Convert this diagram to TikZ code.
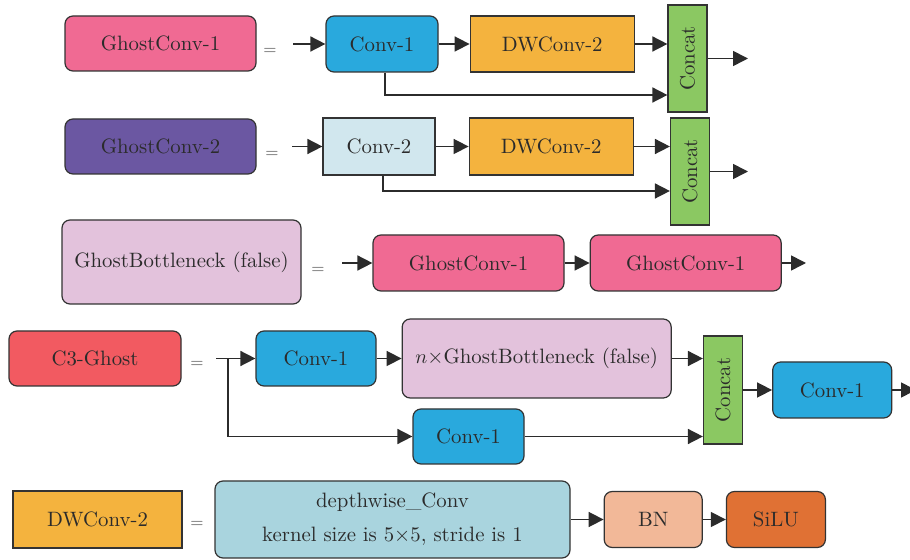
\documentclass[tikz,border=0pt]{standalone}
\usepackage{xcolor}
\usepackage{tikz}
\usetikzlibrary{%
    arrows.meta,
    positioning
}

\definecolor{ink}{HTML}{2B2B2B}
\definecolor{edge}{HTML}{333333}
\definecolor{ghostpink}{HTML}{F06A93}
\definecolor{ghostpurple}{HTML}{6B57A2}
\definecolor{bottlepink}{HTML}{E3C2DC}
\definecolor{convblue}{HTML}{29A9DD}
\definecolor{convpale}{HTML}{D1E7EE}
\definecolor{dworange}{HTML}{F4B33E}
\definecolor{catgreen}{HTML}{8BC862}
\definecolor{cthreered}{HTML}{F25A61}
\definecolor{depthblue}{HTML}{A9D4DE}
\definecolor{bnpeach}{HTML}{F2B898}
\definecolor{siluorange}{HTML}{E07134}

\tikzset{
  box/.style = { draw=edge, line width=0.6pt, text=ink, inner sep=2pt
               , font=\fontsize{10.4}{12.5}\selectfont },
  rbox/.style = { box, rounded corners=4pt },
  catbox/.style = { box, fill=catgreen, minimum width=19.5pt },
  link/.style = { -{Triangle[length=7.5pt,width=7.5pt]}, line width=0.8pt, draw=ink },
  eqsign/.style = { text=black!65, inner sep=0pt, font=\fontsize{8}{9}\selectfont }
}

\begin{document}
\begin{tikzpicture}[x=0.5pt,y=-0.5pt]
  \def\bh{27.5pt}
  \def\gw{95.5pt}
  \def\cw{56pt}
  \def\dw{82pt}

  \useasboundingbox (0,0) rectangle (910,560);

  % GhostConv-1
  \node[ rbox, fill=ghostpink
       , minimum width=\gw, minimum height=\bh ] (g1) at (160.5,43.5) {GhostConv-1};
  \node[eqsign] (e1) at (270,51) {=};
  \coordinate (i1) at (293,44);
  \node[ rbox, fill=convblue
       , minimum width=\cw, minimum height=28pt ] (c1) at (382,44) {Conv-1};
  \node[ right=15.5pt of c1, box, fill=dworange
       , minimum width=\dw, minimum height=28pt ] (d1) {DWConv-2};
  \node[ catbox, minimum height=53.5pt ] (k1) at (687.5,58.5) {\rotatebox{90}{Concat}};
  \coordinate (o1) at (748,58.5);
  \draw[link] (i1) -- (c1);
  \draw[link] (c1) -- (d1);
  \draw[link] (d1) -- (d1 -| k1.west);
  \draw[link] ([xshift=1.5pt]c1.south) |- (k1.west |- 0,95);
  \draw[link] (k1) -- (o1);

  % GhostConv-2
  \node[ rbox, fill=ghostpurple
       , minimum width=\gw, minimum height=\bh ] (g2) at (160.5,146.5) {GhostConv-2};
  \node[eqsign] (e2) at (272,154) {=};
  \coordinate (i2) at (292,146.5);
  \node[ box, fill=convpale
       , minimum width=\cw, minimum height=28.5pt ] (c2) at (379,146.5) {Conv-2};
  \node[ right=16.5pt of c2, box, fill=dworange
       , minimum width=\dw, minimum height=28.5pt ] (d2) {DWConv-2};
  \node[ catbox, minimum height=53.5pt ] (k2) at (690,171.5) {\rotatebox{90}{Concat}};
  \coordinate (o2) at (748,171.5);
  \draw[link] (i2) -- (c2);
  \draw[link] (c2) -- (d2);
  \draw[link] (d2) -- (d2 -| k2.west);
  \draw[link] ([xshift=2pt]c2.south) |- (k2.west |- 0,191);
  \draw[link] (k2) -- (o2);

  % GhostBottleneck
  \node[ rbox, fill=bottlepink
       , minimum width=119.5pt, minimum height=42pt ] (gb) at (181.5,262) {GhostBottleneck (false)};
  \node[eqsign] (e3) at (318,270) {=};
  \coordinate (i3) at (342,263);
  \node[ rbox, fill=ghostpink
       , minimum width=\gw, minimum height=28pt ] (gc1) at (468.5,263) {GhostConv-1};
  \node[ right=12.5pt of gc1, rbox, fill=ghostpink
       , minimum width=\gw, minimum height=28pt ] (gc2) {GhostConv-1};
  \coordinate (o3) at (806,263);
  \draw[link] (i3) -- (gc1);
  \draw[link] (gc1) -- (gc2);
  \draw[link] (gc2) -- (o3);

  % C3-Ghost
  \node[ rbox, fill=cthreered
       , minimum width=86pt, minimum height=\bh ] (c3) at (95,358.5) {C3-Ghost};
  \node[eqsign] (e4) at (197,364) {=};
  \coordinate (i4) at (216,358.5);
  \coordinate (j4) at (228,358.5);
  \node[ rbox, fill=convblue
       , minimum width=60pt, minimum height=\bh ] (ca) at (316,358.5) {Conv-1};
  \node[ right=12.5pt of ca, rbox, fill=bottlepink
       , minimum width=134.5pt, minimum height=39.5pt ] (nb) {$n$\texttimes GhostBottleneck (false)};
  \node[ rbox, fill=convblue
       , minimum width=55.5pt, minimum height=\bh ] (cb) at (468.5,436.5) {Conv-1};
  \node[ catbox, minimum height=54pt ] (k4) at (723,390) {\rotatebox{90}{Concat}};
  \node[ right=14.5pt of k4, rbox, fill=convblue
       , minimum width=59.5pt, minimum height=28pt ] (cc) {Conv-1};
  \coordinate (o4) at (916,390);
  \draw[link] (i4) -- (ca);
  \draw[link] (j4) |- (cb);
  \draw[link] (ca) -- (nb);
  \draw[link] (nb) -- (nb -| k4.west);
  \draw[link] (cb) -- (cb -| k4.west);
  \draw[link] (k4) -- (cc);
  \draw[link] (cc) -- (o4);

  % DWConv-2
  \node[ box, fill=dworange
       , minimum width=84.5pt, minimum height=28.5pt ] (dw) at (97.5,519.5) {DWConv-2};
  \node[eqsign] (e5) at (197,524) {=};
  \node[ rbox, fill=depthblue, align=center
       , minimum width=177.5pt, minimum height=38.5pt ] (dc) at (392.5,519.5)
  {%
    depthwise\_Conv\\[4.5pt]
    kernel size is 5\texttimes 5, stride is 1
  };
  \node[ right=16.5pt of dc, rbox, fill=bnpeach
       , minimum width=49pt, minimum height=28pt ] (bn) {BN};
  \node[ right=11.5pt of bn, rbox, fill=siluorange
       , minimum width=49.5pt, minimum height=28pt ] (si) {SiLU};
  \draw[link] (dc) -- (bn);
  \draw[link] (bn) -- (si);
\end{tikzpicture}
\end{document}
